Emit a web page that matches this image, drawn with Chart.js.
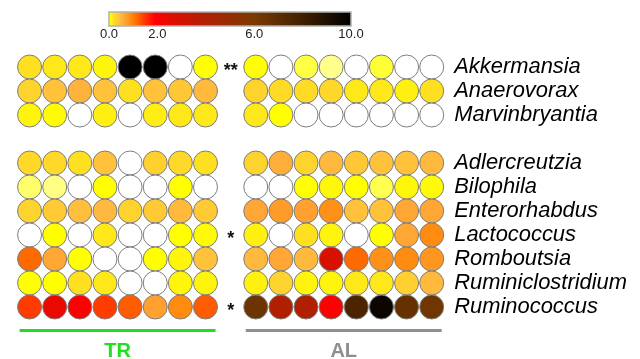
<!DOCTYPE html>
<html>
<head>
<meta charset="utf-8">
<script src="https://cdn.jsdelivr.net/npm/chart.js@4"></script>
<style>
  html, body { margin: 0; padding: 0; background: #fff; }
  #wrap { width: 640px; height: 359px; }
</style>
</head>
<body>
<div id="wrap"><canvas id="heatChart"></canvas></div>
<script>
// row names (two blocks, separated by a blank row)
const topRows = ['Akkermansia', 'Anaerovorax', 'Marvinbryantia'];
const bottomRows = ['Adlercreutzia', 'Bilophila', 'Enterorhabdus', 'Lactococcus',
    'Romboutsia', 'Ruminiclostridium', 'Ruminococcus'];

// significance marks, one per row (top block then bottom block)
const sigMarks = ['**', '', '', '', '', '', '*', '', '', '*'];

// column ids for the two groups
const trCols = ['TR1', 'TR2', 'TR3', 'TR4', 'TR5', 'TR6', 'TR7', 'TR8'];
const alCols = ['AL1', 'AL2', 'AL3', 'AL4', 'AL5', 'AL6', 'AL7', 'AL8'];

// values per row, null = not detected (white)
const trValues = [
    [0.2, 0.15, 0.15, 0.1, 10, 10, null, 0.06],
    [0.28, 0.42, 0.55, 0.42, 0.2, 0.42, 0.38, 0.48],
    [0.1, 0.08, null, 0.12, null, 0.13, 0.15, 0.15],
    [0.25, 0.25, 0.2, 0.42, null, 0.3, 0.25, 0.2],
    [0.02, 0.01, null, 0.06, null, null, 0.06, null],
    [0.28, 0.35, 0.45, 0.5, 0.28, 0.35, 0.48, 0.35],
    [null, 0.06, null, 0.15, null, null, 0.06, 0.08],
    [1.15, 0.65, 0.06, null, null, 0.06, 0.1, 0.42],
    [0.06, 0.06, 0.2, 0.15, null, null, 0.1, 0.1],
    [1.45, 2.4, 1.9, 1.45, 1.25, 0.7, 0.9, 1.25]
];
const alValues = [
    [0.06, null, 0.035, 0.008, null, 0.04, null, null],
    [0.28, 0.24, 0.24, 0.26, 0.15, 0.15, 0.12, 0.2],
    [0.15, 0.06, null, null, null, null, null, null],
    [0.28, 0.58, 0.28, 0.48, 0.38, 0.42, 0.42, 0.48],
    [null, null, 0.06, 0.09, 0.06, 0.03, 0.09, 0.08],
    [0.65, 0.75, 0.7, 0.85, 0.42, 0.42, 0.65, 0.65],
    [0.12, null, 0.2, 0.1, null, 0.06, 0.65, 0.9],
    [0.48, 0.65, 0.48, 2.8, 1.15, 0.85, 0.9, 0.8],
    [0.12, 0.28, 0.1, 0.1, 0.15, 0.15, 0.3, 0.48],
    [6.5, 4.0, 4.0, 2.0, 7.6, 9.6, 6.7, 6.3]
];

// colour scale
const scaleTicks = [0, 2, 6, 10];
const colorStops = [
    [0, '#ffffa0'], [0.06, '#ffff00'], [0.15, '#ffe81a'], [0.3, '#ffd030'],
    [0.5, '#ffb840'], [0.7, '#ffa030'], [0.9, '#ff8c10'], [1.15, '#ff6a00'],
    [1.45, '#ff3c00'], [1.9, '#ff0000'], [2.8, '#d81000'], [4, '#b02000'],
    [6, '#7a3a00'], [8, '#402000'], [10, '#000000']
];

function hexRgb(h) {
    return [parseInt(h.substr(1, 2), 16), parseInt(h.substr(3, 2), 16), parseInt(h.substr(5, 2), 16)];
}

function valueColor(v) {
    if (v === null || v === undefined) return '#ffffff';
    if (v <= colorStops[0][0]) return colorStops[0][1];
    for (let i = 1; i < colorStops.length; i++) {
        if (v <= colorStops[i][0]) {
            const a = colorStops[i - 1], b = colorStops[i];
            const t = (v - a[0]) / (b[0] - a[0]);
            const ca = hexRgb(a[1]), cb = hexRgb(b[1]);
            const c = ca.map((x, k) => Math.round(x + (cb[k] - x) * t));
            return 'rgb(' + c.join(',') + ')';
        }
    }
    return colorStops[colorStops.length - 1][1];
}

const rowLabels = topRows.concat(bottomRows);
const yLabels = topRows.concat([''], bottomRows);
const xLabels = trCols.concat(['sig'], alCols);

const points = [];
rowLabels.forEach(function (row, r) {
    trCols.forEach(function (col, c) { points.push({ x: col, y: row, v: trValues[r][c] }); });
    alCols.forEach(function (col, c) { points.push({ x: col, y: row, v: alValues[r][c] }); });
});

const decorPlugin = {
    id: 'decor',
    afterDraw(chart) {
        const ctx = chart.ctx;
        const xs = chart.scales.x, ys = chart.scales.y;
        ctx.save();

        // colour bar
        const barL = 109, barR = 351, barT = 12, barH = 14;
        const grad = ctx.createLinearGradient(barL, 0, barR, 0);
        colorStops.forEach(function (s) { grad.addColorStop(s[0] / 10, s[1]); });
        ctx.fillStyle = grad;
        ctx.fillRect(barL, barT, barR - barL, barH);
        ctx.strokeStyle = '#b0b0b0';
        ctx.lineWidth = 1.5;
        ctx.strokeRect(barL, barT, barR - barL, barH);
        ctx.fillStyle = '#222';
        ctx.font = '13px "Liberation Sans", Arial, sans-serif';
        ctx.textAlign = 'center';
        ctx.textBaseline = 'middle';
        scaleTicks.forEach(function (t) {
            ctx.fillText(t.toFixed(1), barL + (barR - barL) * t / 10, 34);
        });

        // significance stars
        ctx.fillStyle = '#111';
        ctx.font = 'bold 18px "Liberation Sans", Arial, sans-serif';
        ctx.textBaseline = 'alphabetic';
        const sx = xs.getPixelForValue(xLabels.indexOf('sig'));
        rowLabels.forEach(function (row, r) {
            if (sigMarks[r]) {
                ctx.fillText(sigMarks[r], sx, ys.getPixelForValue(yLabels.indexOf(row)) + 9);
            }
        });

        // group bars and names
        const groups = [[trCols, 'TR', '#1ee01e'], [alCols, 'AL', '#8f8f8f']];
        groups.forEach(function (g) {
            const x0 = xs.getPixelForValue(xLabels.indexOf(g[0][0])) - 10;
            const x1 = xs.getPixelForValue(xLabels.indexOf(g[0][g[0].length - 1])) + 10;
            ctx.strokeStyle = g[2];
            ctx.lineWidth = 3;
            ctx.beginPath();
            ctx.moveTo(x0, 330.5);
            ctx.lineTo(x1, 330.5);
            ctx.stroke();
            ctx.fillStyle = g[2];
            ctx.font = 'bold 20px "Liberation Sans", Arial, sans-serif';
            ctx.textBaseline = 'alphabetic';
            ctx.fillText(g[1], (x0 + x1) / 2, 357);
        });
        ctx.restore();
    }
};

new Chart(document.getElementById('heatChart').getContext('2d'), {
    type: 'scatter',
    data: {
        datasets: [{
            data: points,
            backgroundColor: function (c) { return valueColor(c.raw ? c.raw.v : null); },
            borderColor: '#7d7d7d',
            borderWidth: 1,
            pointRadius: 12,
            pointHoverRadius: 12,
            clip: false
        }]
    },
    options: {
        responsive: true,
        maintainAspectRatio: false,
        animation: false,
        events: [],
        layout: { padding: { left: 17, top: 55, bottom: 40, right: 3 } },
        plugins: { legend: { display: false }, tooltip: { enabled: false } },
        scales: {
            x: {
                type: 'category',
                labels: xLabels,
                offset: true,
                display: false
            },
            y: {
                type: 'category',
                labels: yLabels,
                position: 'right',
                offset: true,
                grid: { display: false, drawTicks: false },
                border: { display: false },
                ticks: {
                    autoSkip: false,
                    padding: 10,
                    color: '#000',
                    font: { family: '"Liberation Sans", Arial, sans-serif', size: 21.9, style: 'italic' }
                }
            }
        }
    },
    plugins: [decorPlugin]
});
</script>
</body>
</html>
